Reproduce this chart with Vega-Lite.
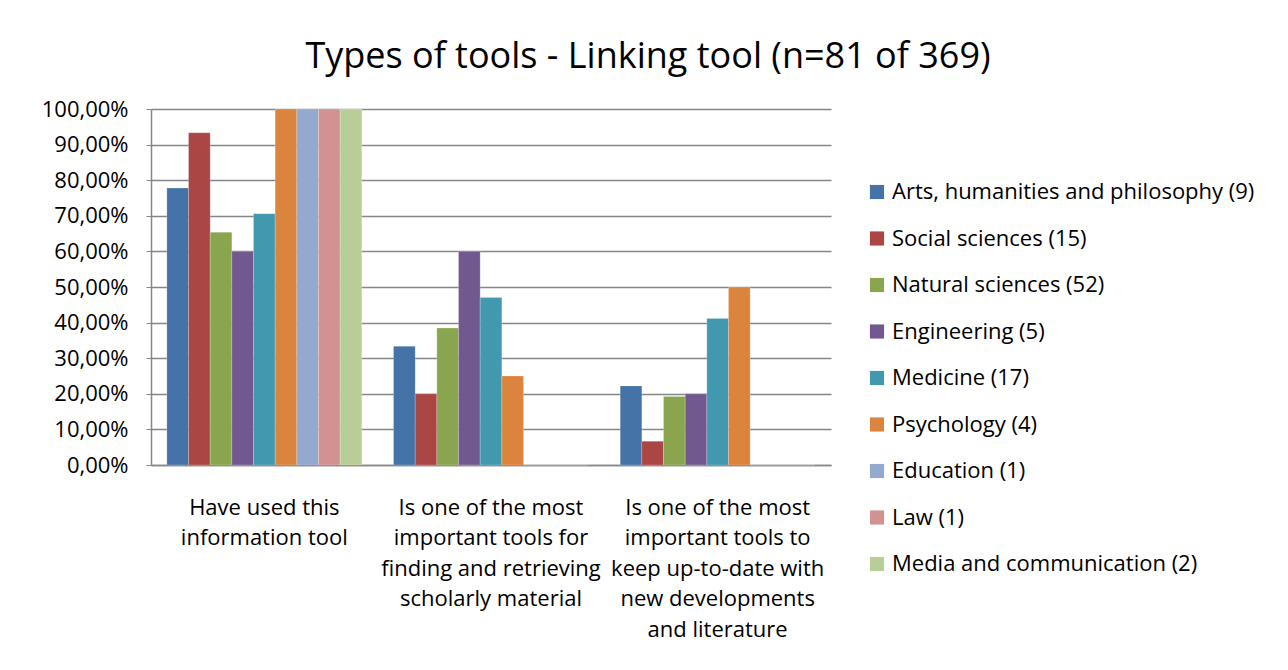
{
  "$schema": "https://vega.github.io/schema/vega-lite/v6.json",
  "width": 680,
  "height": 356,
  "autosize": "none",
  "padding": {"left": 151, "top": 109, "right": 457, "bottom": 205},
  "background": "white",
  "config": {
    "locale": {"number": {"decimal": ",", "thousands": ".", "grouping": [3], "currency": ["", " €"]}},
    "font": "Open Sans",
    "view": {"stroke": null}
  },
  "title": {
    "text": "Types of tools - Linking tool (n=81 of 369)",
    "fontSize": 36,
    "font": "Open Sans",
    "fontWeight": "normal",
    "color": "#000000",
    "anchor": "middle",
    "dx": 157,
    "offset": 22
  },
  "data": {
    "values": [
      {"q": "Have used this|information tool", "g": "Arts, humanities and philosophy (9)", "v": 0.7778},
      {"q": "Have used this|information tool", "g": "Social sciences (15)", "v": 0.9333},
      {"q": "Have used this|information tool", "g": "Natural sciences (52)", "v": 0.6538},
      {"q": "Have used this|information tool", "g": "Engineering (5)", "v": 0.6},
      {"q": "Have used this|information tool", "g": "Medicine (17)", "v": 0.7059},
      {"q": "Have used this|information tool", "g": "Psychology (4)", "v": 1.0},
      {"q": "Have used this|information tool", "g": "Education (1)", "v": 1.0},
      {"q": "Have used this|information tool", "g": "Law (1)", "v": 1.0},
      {"q": "Have used this|information tool", "g": "Media and communication (2)", "v": 1.0},
      {"q": "Is one of the most|important tools for|finding and retrieving|scholarly material", "g": "Arts, humanities and philosophy (9)", "v": 0.3333},
      {"q": "Is one of the most|important tools for|finding and retrieving|scholarly material", "g": "Social sciences (15)", "v": 0.2},
      {"q": "Is one of the most|important tools for|finding and retrieving|scholarly material", "g": "Natural sciences (52)", "v": 0.3846},
      {"q": "Is one of the most|important tools for|finding and retrieving|scholarly material", "g": "Engineering (5)", "v": 0.6},
      {"q": "Is one of the most|important tools for|finding and retrieving|scholarly material", "g": "Medicine (17)", "v": 0.4706},
      {"q": "Is one of the most|important tools for|finding and retrieving|scholarly material", "g": "Psychology (4)", "v": 0.25},
      {"q": "Is one of the most|important tools for|finding and retrieving|scholarly material", "g": "Education (1)", "v": 0},
      {"q": "Is one of the most|important tools for|finding and retrieving|scholarly material", "g": "Law (1)", "v": 0},
      {"q": "Is one of the most|important tools for|finding and retrieving|scholarly material", "g": "Media and communication (2)", "v": 0},
      {"q": "Is one of the most|important tools to|keep up-to-date with|new developments|and literature", "g": "Arts, humanities and philosophy (9)", "v": 0.2222},
      {"q": "Is one of the most|important tools to|keep up-to-date with|new developments|and literature", "g": "Social sciences (15)", "v": 0.0667},
      {"q": "Is one of the most|important tools to|keep up-to-date with|new developments|and literature", "g": "Natural sciences (52)", "v": 0.1923},
      {"q": "Is one of the most|important tools to|keep up-to-date with|new developments|and literature", "g": "Engineering (5)", "v": 0.2},
      {"q": "Is one of the most|important tools to|keep up-to-date with|new developments|and literature", "g": "Medicine (17)", "v": 0.4118},
      {"q": "Is one of the most|important tools to|keep up-to-date with|new developments|and literature", "g": "Psychology (4)", "v": 0.5},
      {"q": "Is one of the most|important tools to|keep up-to-date with|new developments|and literature", "g": "Education (1)", "v": 0},
      {"q": "Is one of the most|important tools to|keep up-to-date with|new developments|and literature", "g": "Law (1)", "v": 0},
      {"q": "Is one of the most|important tools to|keep up-to-date with|new developments|and literature", "g": "Media and communication (2)", "v": 0}
    ]
  },
  "mark": {"type": "bar", "stroke": "#ffffff", "strokeOpacity": 0.35, "strokeWidth": 0.6},
  "encoding": {
    "x": {
      "field": "q",
      "type": "nominal",
      "sort": null,
      "scale": {"paddingInner": 0.14, "paddingOuter": 0.07},
      "axis": {
        "title": null,
        "labelAngle": 0,
        "labelExpr": "split(datum.label, '|')",
        "labelFontSize": 22,
        "labelLineHeight": 30.5,
        "labelColor": "#000000",
        "labelPadding": 32,
        "labelLimit": 400,
        "labelOverlap": false,
        "ticks": false,
        "domainColor": "#868686",
        "domainWidth": 1.5
      }
    },
    "xOffset": {
      "field": "g",
      "type": "nominal",
      "sort": null
    },
    "y": {
      "field": "v",
      "type": "quantitative",
      "scale": {"domain": [0, 1], "nice": false},
      "axis": {
        "title": null,
        "format": ".2%",
        "values": [0, 0.1, 0.2, 0.3, 0.4, 0.5, 0.6, 0.7, 0.8, 0.9, 1.0],
        "labelOverlap": false,
        "labelFontSize": 22,
        "labelColor": "#000000",
        "labelPadding": 18,
        "tickSize": 5,
        "tickColor": "#868686",
        "domainColor": "#868686",
        "domainWidth": 1.5,
        "gridColor": "#868686",
        "gridWidth": 1.5
      }
    },
    "color": {
      "field": "g",
      "type": "nominal",
      "sort": null,
      "scale": {
        "domain": ["Arts, humanities and philosophy (9)", "Social sciences (15)", "Natural sciences (52)", "Engineering (5)", "Medicine (17)", "Psychology (4)", "Education (1)", "Law (1)", "Media and communication (2)"],
        "range": ["#4572A7", "#AA4643", "#89A54E", "#71588F", "#4198AF", "#DB843D", "#93A9CF", "#D19392", "#B9CD96"]
      },
      "legend": {
        "title": null,
        "orient": "none",
        "legendX": 715,
        "legendY": 72,
        "symbolType": "square",
        "symbolSize": 200,
        "symbolStrokeWidth": 0,
        "labelFontSize": 22,
        "labelColor": "#000000",
        "labelLimit": 450,
        "rowPadding": 24.5,
        "labelOffset": 4
      }
    }
  }
}
